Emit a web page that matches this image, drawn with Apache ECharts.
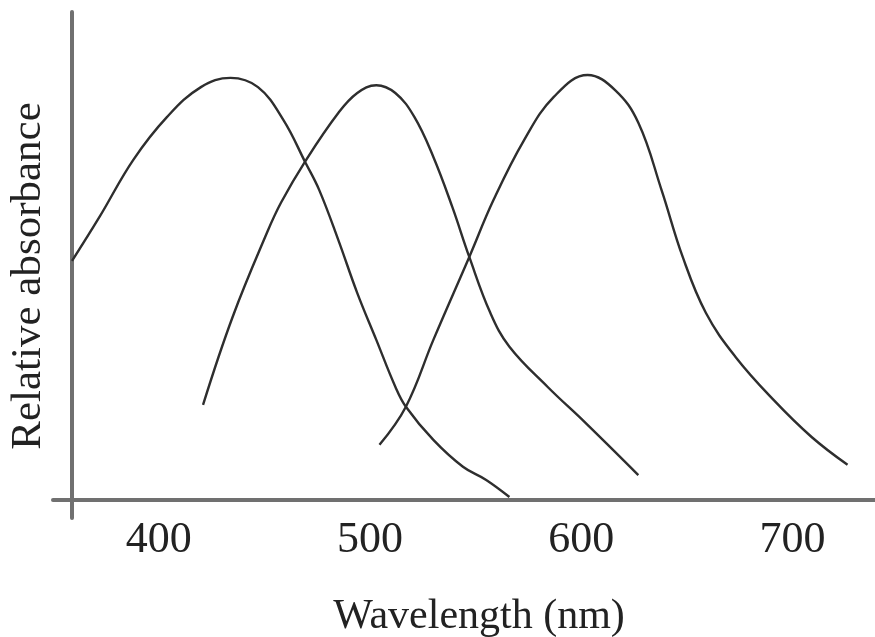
<!DOCTYPE html>
<html>
<head>
<meta charset="utf-8">
<script src="https://cdn.jsdelivr.net/npm/echarts@6/dist/echarts.min.js"></script>
<style>
  html, body { margin: 0; padding: 0; background: #fff; }
  #chart { width: 875px; height: 637px; }
</style>
</head>
<body>
<div id="chart"></div>
<script>
// Cone absorbance curves (nm, relative absorbance).
const tickLabels = [400, 500, 600, 700];

const shortCone = [
  [359, 0.49], [372, 0.58], [388, 0.697], [404, 0.785], [420, 0.846], [434, 0.865],
  [447, 0.846], [459, 0.779], [469.5, 0.691], [476, 0.635], [485, 0.533], [494, 0.424],
  [503, 0.328], [512, 0.232], [517, 0.191], [530, 0.123], [544, 0.068], [555, 0.041],
  [566, 0.006],
];

const mediumCone = [
  [421, 0.195], [435, 0.375], [451.5, 0.55], [458, 0.61], [469.5, 0.695], [485, 0.793],
  [494, 0.834], [503, 0.85], [512, 0.834], [521, 0.785], [530, 0.703], [539, 0.6],
  [547, 0.498], [557, 0.383], [566, 0.314], [584, 0.232], [602, 0.158], [627, 0.051],
];

const longCone = [
  [504.5, 0.113], [517, 0.191], [530, 0.328], [547, 0.498], [558.5, 0.615], [573, 0.738],
  [587, 0.826], [603, 0.871], [616, 0.84], [627, 0.773], [638, 0.635], [648, 0.498],
  [659, 0.383], [673, 0.293], [691, 0.205], [709, 0.129], [726, 0.072],
];

const chart = echarts.init(document.getElementById('chart'), null, { renderer: 'canvas' });

const axisColor = '#707070';
const curveStyle = { color: '#2e2e2e', width: 2.4 };
const fontFamily = '"Liberation Serif", "DejaVu Serif", serif';

function curve(name, data) {
  return {
    name,
    type: 'line',
    data,
    smooth: 0.4,
    showSymbol: false,
    lineStyle: curveStyle,
    itemStyle: { color: curveStyle.color },
    silent: true,
  };
}

chart.setOption({
  animation: false,
  backgroundColor: '#fff',
  grid: { left: 53, right: 0, top: 12, bottom: 119, outerBoundsMode: 'none' },
  xAxis: {
    type: 'value',
    min: 350,
    max: 739,
    name: 'Wavelength (nm)',
    nameLocation: 'middle',
    nameGap: 78,
    nameTextStyle: { fontFamily, fontSize: 42, color: '#222', padding: [0, 0, 0, 30] },
    axisLine: { onZero: true, lineStyle: { color: axisColor, width: 4 } },
    axisTick: { show: false },
    splitLine: { show: false },
    axisLabel: {
      customValues: tickLabels,
      margin: 0,
      fontFamily,
      fontSize: 44,
      color: '#222',
    },
  },
  yAxis: {
    type: 'value',
    min: -0.037,
    max: 1,
    offset: -19,
    name: 'Relative absorbance',
    nameLocation: 'middle',
    nameGap: 22,
    nameRotate: 90,
    nameTextStyle: { fontFamily, fontSize: 43, color: '#222', padding: [0, 22, 0, 0] },
    axisLine: { show: true, onZero: false, lineStyle: { color: axisColor, width: 4 } },
    axisTick: { show: false },
    axisLabel: { show: false },
    splitLine: { show: false },
  },
  series: [
    curve('S', shortCone),
    curve('M', mediumCone),
    curve('L', longCone),
  ],
});
</script>
</body>
</html>
